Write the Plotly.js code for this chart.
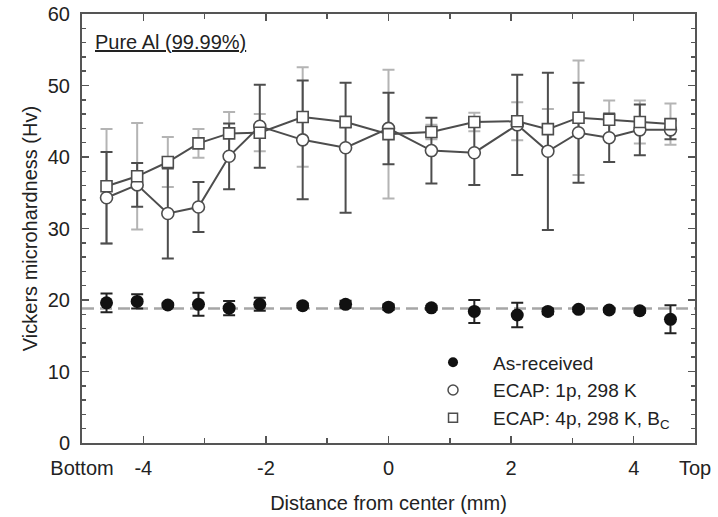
<!DOCTYPE html>
<html>
<head>
<meta charset="utf-8">
<script src="https://cdn.plot.ly/plotly-3.0.1.min.js"></script>
<style>html,body{margin:0;padding:0;background:#fff;}#chart{width:718px;height:517px;}</style>
</head>
<body>
<div id="chart"></div>
<script>
// Distance from center (mm)
const positions = [-4.6, -4.1, -3.6, -3.1, -2.6, -2.1, -1.4, -0.7, 0, 0.7, 1.4, 2.1, 2.6, 3.1, 3.6, 4.1, 4.6];

// As-received
const asReceived    = [19.6, 19.8, 19.3, 19.4, 18.85, 19.4, 19.2, 19.4, 19.0, 18.9, 18.4, 17.9, 18.4, 18.7, 18.6, 18.5, 17.3];
const asReceivedErr = [1.3, 1.0, 0.3, 1.6, 1.0, 0.9, 0.3, 0.5, 0.4, 0.3, 1.6, 1.7, 0.4, 0.3, 0.3, 0.3, 1.95];

// ECAP: 1p, 298 K
const ecap1p    = [34.3, 36.1, 32.1, 33.0, 40.1, 44.3, 42.4, 41.3, 44.0, 40.9, 40.6, 44.5, 40.8, 43.4, 42.7, 43.8, 43.8];
const ecap1pErr = [6.4, 3.05, 6.3, 3.5, 4.6, 5.8, 8.3, 9.1, 5.0, 4.6, 4.5, 7.0, 11.0, 7.0, 3.4, 3.55, 1.3];

// ECAP: 4p, 298 K, Bc
const ecap4p    = [35.9, 37.3, 39.3, 41.9, 43.3, 43.4, 45.6, 44.9, 43.2, 43.5, 44.9, 45.0, 43.9, 45.5, 45.2, 44.9, 44.6];
const ecap4pErr = [8.0, 7.45, 3.5, 2.0, 3.0, 2.6, 6.95, 0.8, 9.0, 1.0, 1.3, 2.65, 2.8, 8.0, 2.7, 3.0, 2.9];

// Average level of as-received material (dashed line)
const asReceivedMean = 18.8;

// Axis ticks
const xRange = [-5, 5];
const xTickVals = [-5, -4, -2, 0, 2, 4, 5];
const xTickText = ['Bottom', '-4', '-2', '0', '2', '4', 'Top'];
const xMinorVals = [-3, -1, 1, 3];

const seriesNames = ['As-received', 'ECAP: 1p, 298 K', 'ECAP: 4p, 298 K, B<sub>C</sub>'];

const FONT = 'Liberation Sans, Arial, Helvetica, sans-serif';
const DARK = '#4d4d4d';
const LIGHT = '#b4b4b4';

const traces = [
  // dashed mean line
  {x: xRange, y: xRange.map(() => asReceivedMean), mode: 'lines',
   line: {color: '#a6a6a6', width: 2.5, dash: '12px,6px'}, showlegend: false, hoverinfo: 'skip'},
  // light error bars of 4p series (drawn beneath)
  {x: positions, y: ecap4p, mode: 'lines', line: {width: 0, color: 'rgba(0,0,0,0)'},
   error_y: {type: 'data', array: ecap4pErr, visible: true, color: LIGHT, thickness: 2, width: 6},
   showlegend: false, hoverinfo: 'skip'},
  // 1p series
  {x: positions, y: ecap1p, mode: 'lines+markers', line: {color: DARK, width: 2},
   marker: {symbol: 'circle', size: 12, color: '#fff', line: {color: DARK, width: 1.6}},
   error_y: {type: 'data', array: ecap1pErr, visible: true, color: DARK, thickness: 2, width: 6},
   showlegend: false},
  // 4p series
  {x: positions, y: ecap4p, mode: 'lines+markers', line: {color: DARK, width: 2},
   marker: {symbol: 'square', size: 11, color: '#fff', line: {color: DARK, width: 1.6}},
   showlegend: false},
  // as-received
  {x: positions, y: asReceived, mode: 'markers',
   marker: {symbol: 'circle', size: 13, color: '#111'},
   error_y: {type: 'data', array: asReceivedErr, visible: true, color: '#222', thickness: 2, width: 6},
   showlegend: false},
  // legend entries (marker only)
  {x: [null], y: [null], mode: 'markers', name: seriesNames[0],
   marker: {symbol: 'circle', size: 10, color: '#111'}},
  {x: [null], y: [null], mode: 'markers', name: seriesNames[1],
   marker: {symbol: 'circle', size: 10, color: '#fff', line: {color: DARK, width: 1.5}}},
  {x: [null], y: [null], mode: 'markers', name: seriesNames[2],
   marker: {symbol: 'square', size: 9, color: '#fff', line: {color: DARK, width: 1.5}}}
];

const axisCommon = {
  showline: true, linecolor: '#555', linewidth: 2, mirror: 'ticks',
  ticks: 'inside', ticklen: 7, tickwidth: 1.5, tickcolor: '#555',
  showgrid: false, zeroline: false,
  tickfont: {family: FONT, size: 20, color: '#222'}
};

const layout = {
  width: 718, height: 517,
  margin: {l: 82, r: 23, t: 14, b: 74},
  paper_bgcolor: '#fff', plot_bgcolor: '#fff',
  font: {family: FONT, color: '#222'},
  xaxis: Object.assign({}, axisCommon, {
    range: xRange, tickmode: 'array', tickvals: xTickVals, ticktext: xTickText,
    minor: {tickmode: 'array', tickvals: xMinorVals, ticks: 'inside', ticklen: 5, tickwidth: 1.5, tickcolor: '#555'},
    ticklabelstandoff: 6,
    title: {text: 'Distance from center (mm)', font: {family: FONT, size: 20, color: '#222'}, standoff: 18}
  }),
  yaxis: Object.assign({}, axisCommon, {
    range: [0, 60], tickmode: 'linear', tick0: 0, dtick: 10,
    minor: {dtick: 2, ticks: 'inside', ticklen: 4, tickwidth: 1.5, tickcolor: '#555'},
    ticklabelstandoff: 6,
    title: {text: 'Vickers microhardness (Hv)', font: {family: FONT, size: 20, color: '#222'}, standoff: 5}
  }),
  legend: {
    x: 0.54, y: 0.232, xanchor: 'left', yanchor: 'top',
    bgcolor: 'rgba(0,0,0,0)', borderwidth: 0,
    itemwidth: 70,
    font: {family: FONT, size: 19, color: '#222'},
    tracegroupgap: 0
  },
  annotations: [{
    xref: 'paper', yref: 'paper', x: 0.018, y: 0.935, xanchor: 'left', yanchor: 'middle',
    text: '<span style="text-decoration:underline">Pure Al (99.99%)</span>',
    showarrow: false, font: {family: FONT, size: 20, color: '#222'}
  }]
};

Plotly.newPlot('chart', traces, layout, {staticPlot: true, displayModeBar: false});
</script>
</body>
</html>
